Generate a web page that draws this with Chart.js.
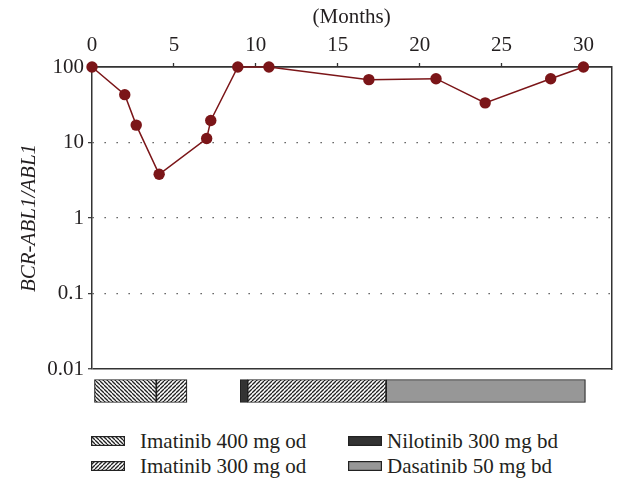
<!DOCTYPE html>
<html>
<head>
<meta charset="utf-8">
<script src="https://cdn.jsdelivr.net/npm/chart.js@4"></script>
<style>
  html, body { margin: 0; padding: 0; background: #fff; }
  #wrap { position: relative; width: 617px; height: 479px; overflow: hidden; font-family: "Liberation Serif", "DejaVu Serif", serif; color: #231f20; }
  canvas { position: absolute; left: 0; }
  #main { top: 0; }
  #bars { top: 373px; }
  .lg { position: absolute; font-size: 21px; line-height: 22px; white-space: nowrap; }
  .lgbox { position: absolute; }
</style>
</head>
<body>
<div id="wrap">
  <canvas id="main" width="617" height="382"></canvas>
  <canvas id="bars" width="617" height="36"></canvas>
</div>
<script>
// ---- data ----
const months = [0, 2, 2.7, 4.1, 7, 7.25, 8.9, 10.8, 16.9, 21, 24, 28, 30];
const ratios = [100, 43, 17, 3.8, 11.3, 19.6, 100, 100, 68, 70, 33.5, 70, 100];
const xTicks = [0, 5, 10, 15, 20, 25, 30];
const yTicks = [0.01, 0.1, 1, 10, 100];
const yTickLabels = ['0.01', '0.1', '1', '10', '100'];
const treatments = ['Imatinib 400 mg od', 'Imatinib 300 mg od', 'Nilotinib 300 mg bd', 'Dasatinib 50 mg bd'];
const treatmentKind = [0, 1, 2, 1, 3];
const treatmentStart = [0.15, 3.92, 9.04, 9.49, 17.93];
const treatmentEnd = [3.92, 5.79, 9.49, 17.93, 30.08];

// ---- styles ----
const INK = '#231f20';
const RED = '#7b1518';
const FONT = '"Liberation Serif", "DejaVu Serif", serif';

function hatch(dir) {
  const s = 4;
  const c = document.createElement('canvas');
  c.width = s; c.height = s;
  const g = c.getContext('2d');
  g.fillStyle = '#fff';
  g.fillRect(0, 0, s, s);
  g.strokeStyle = '#222';
  g.lineWidth = 1.3;
  for (let k = -1; k <= 1; k++) {
    g.beginPath();
    if (dir === 'back') { g.moveTo(k * s, 0); g.lineTo(k * s + s, s); }
    else { g.moveTo(k * s, s); g.lineTo(k * s + s, 0); }
    g.stroke();
  }
  return g.createPattern(c, 'repeat');
}
const fills = [hatch('back'), hatch('fwd'), '#333333', '#979797'];

const dotted = [0.1, 1, 10];

new Chart(document.getElementById('main'), {
  type: 'line',
  data: {
    datasets: [{
      data: months.map((m, i) => ({ x: m, y: ratios[i] })),
      borderColor: RED,
      backgroundColor: RED,
      borderWidth: 1.5,
      pointRadius: 5.7,
      pointBackgroundColor: RED,
      pointBorderColor: RED,
      pointBorderWidth: 0,
      tension: 0,
      clip: false
    }]
  },
  options: {
    responsive: false,
    animation: false,
    devicePixelRatio: 1,
    layout: { padding: { left: 17, right: 0, top: 0, bottom: 13 } },
    plugins: { legend: { display: false }, tooltip: { enabled: false } },
    scales: {
      x: {
        type: 'linear',
        position: 'top',
        min: 0,
        max: 31.7,
        afterBuildTicks: s => { s.ticks = xTicks.map(v => ({ value: v })); },
        afterFit: s => { s.height = 67; s.paddingLeft = 0; s.paddingRight = 0; },
        ticks: { color: INK, font: { family: FONT, size: 21 }, padding: 5, maxRotation: 0 },
        title: { display: true, text: '(Months)', color: INK, font: { family: FONT, size: 21 }, padding: { top: 5, bottom: 0 } },
        grid: { drawOnChartArea: false, tickLength: 4, tickColor: '#333', tickWidth: 1.3 },
        border: { display: true, color: '#333', width: 1.5 }
      },
      y: {
        type: 'logarithmic',
        position: 'left',
        min: 0.01,
        max: 100,
        afterBuildTicks: s => { s.ticks = yTicks.map(v => ({ value: v })); },
        afterFit: s => { s.width = 75; s.paddingTop = 0; s.paddingBottom = 0; },
        ticks: {
          color: INK, font: { family: FONT, size: 21 }, padding: 4,
          callback: (v) => { const i = yTicks.indexOf(v); return i >= 0 ? yTickLabels[i] : ''; }
        },
        title: { display: true, text: 'BCR-ABL1/ABL1', color: INK, font: { family: FONT, size: 21, style: 'italic' }, padding: { top: 0, bottom: 4 } },
        grid: {
          drawOnChartArea: true,
          color: (ctx) => (ctx.tick && dotted.includes(ctx.tick.value)) ? '#444' : '#333',
          lineWidth: (ctx) => (ctx.tick && dotted.includes(ctx.tick.value)) ? 1.3 : 1.5,
          tickLength: 4,
          tickColor: '#333',
          tickWidth: 1.2
        },
        border: {
          display: true, color: '#333', width: 1.5,
          dash: (ctx) => (ctx.tick && dotted.includes(ctx.tick.value)) ? [1.3, 10.7] : []
        }
      },
      yr: {
        type: 'linear',
        position: 'right',
        display: true,
        afterFit: s => { s.width = 5; s.paddingTop = 0; s.paddingBottom = 0; },
        ticks: { display: false },
        grid: { drawOnChartArea: false, drawTicks: false },
        border: { display: true, color: '#333', width: 1.5 }
      }
    }
  }
});

new Chart(document.getElementById('bars'), {
  type: 'bar',
  data: {
    labels: ['therapy'],
    datasets: treatmentStart.map((s, i) => ({
      label: treatments[treatmentKind[i]],
      data: [[s, treatmentEnd[i]]],
      backgroundColor: fills[treatmentKind[i]],
      borderColor: '#222',
      borderWidth: 1.2,
      borderSkipped: false
    }))
  },
  options: {
    indexAxis: 'y',
    responsive: false,
    animation: false,
    devicePixelRatio: 1,
    layout: { padding: { left: 92, right: 5, top: 0, bottom: 0 } },
    plugins: { legend: { display: false }, tooltip: { enabled: false } },
    datasets: { bar: { grouped: false, barThickness: 23 } },
    scales: {
      x: { type: 'linear', min: 0, max: 31.7, display: false },
      y: { display: false }
    }
  }
});

// ---- legend (HTML) ----
const wrap = document.getElementById('wrap');
const legendPos = [
  { box: [91, 436], text: [140, 430] },
  { box: [91, 461], text: [140, 455] },
  { box: [348, 436], text: [387, 430] },
  { box: [348, 461], text: [387, 455] }
];
treatments.forEach((name, k) => {
  const p = legendPos[k];
  const c = document.createElement('canvas');
  c.width = 34; c.height = 10;
  c.className = 'lgbox';
  c.style.left = p.box[0] + 'px';
  c.style.top = p.box[1] + 'px';
  const g = c.getContext('2d');
  g.fillStyle = fills[k];
  g.fillRect(0, 0, 34, 10);
  g.strokeStyle = '#222';
  g.lineWidth = 1.2;
  g.strokeRect(0.6, 0.6, 32.8, 8.8);
  wrap.appendChild(c);
  const d = document.createElement('div');
  d.className = 'lg';
  d.style.left = p.text[0] + 'px';
  d.style.top = p.text[1] + 'px';
  d.textContent = name;
  wrap.appendChild(d);
});
</script>
</body>
</html>
